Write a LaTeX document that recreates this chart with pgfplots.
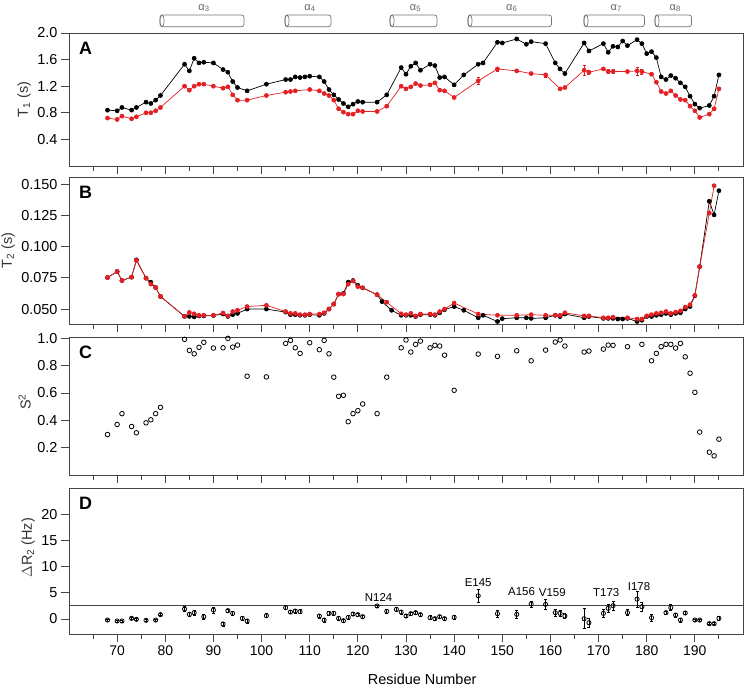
\documentclass[border=0pt]{standalone}
\usepackage{pgfplots}
\pgfplotsset{compat=1.18}
\usepackage{fontspec}
\setmainfont{Liberation Sans}
\definecolor{myred}{RGB}{228,32,36}
\definecolor{frame}{RGB}{70,70,70}
\tikzset{letter/.style={anchor=north west, inner sep=0pt, font=\fontsize{18}{18}\selectfont\bfseries}}
\pgfplotsset{
  panel/.style={
    scale only axis, width=674bp, xmin=60, xmax=200,
    axis line style={frame, line width=0.9bp},
    every tick/.style={frame, line width=0.9bp},
    xtick={70,80,...,190}, minor xtick={65,75,...,195},
    tick align=outside, major tick length=8bp, minor tick length=5bp,
    tick pos=left,
    xticklabel style={font=\fontsize{14}{16}\selectfont},
    yticklabel style={font=\fontsize{14.5}{16}\selectfont, /pgf/number format/.cd, fixed, fixed zerofill, precision=1},
    /pgf/number format/assume math mode=true,
    every axis y label/.style={at={(ticklabel cs:0.5)}, rotate=90, anchor=near ticklabel, inner sep=3bp, font=\fontsize{14.5}{16}\selectfont, text=black!80},
    clip=false,
  },
  blk/.style={black, line width=0.7bp, mark=*, mark size=2bp, mark options={fill=black}},
  rd/.style={myred, line width=0.7bp, mark=*, mark size=2bp, mark options={fill=myred}},
}
\begin{document}
\begin{tikzpicture}
\useasboundingbox (0,0) rectangle (744bp,689bp);

% ---------------- Panel A ----------------
\begin{axis}[panel, at={(69bp,523bp)}, anchor=south west, height=133bp,
  ymin=0, ymax=2.0, ytick={0.4,0.8,1.2,1.6,2.0}, xticklabels={},
  ylabel={T\textsubscript{1} (s)}]
\addplot[blk] coordinates {
(68,0.84)(70,0.83)(71,0.88)(73,0.84)(74,0.88)(76,0.96)(77,0.94)(78,0.99)(79,1.06)
(84,1.53)(85,1.43)(86,1.62)(87,1.55)(88,1.56)(90,1.55)(92,1.45)(93,1.41)(94,1.27)(95,1.18)(97,1.13)
(101,1.23)(105,1.30)(106,1.30)(107,1.34)(108,1.33)(109,1.34)(110,1.35)(112,1.34)(113,1.27)(114,1.15)
(115,1.07)(116,1.00)(117,0.94)(118,0.89)(119,0.93)(120,0.97)(121,0.96)(124,0.96)(126,1.07)
(129,1.48)(130,1.38)(131,1.50)(132,1.55)(133,1.44)(135,1.53)(136,1.51)(137,1.33)(138,1.34)(140,1.22)
(142,1.37)(145,1.53)(146,1.55)(149,1.86)(150,1.85)(153,1.91)(155,1.83)(156,1.87)(159,1.84)
(161,1.55)(162,1.46)(163,1.39)(167,1.85)(168,1.73)(171,1.84)(172,1.71)(173,1.80)(174,1.79)(175,1.88)
(176,1.81)(178,1.90)(179,1.84)(180,1.69)(181,1.72)(182,1.63)(183,1.34)(184,1.30)(185,1.36)(186,1.32)
(187,1.25)(188,1.19)(189,1.05)(190,0.93)(191,0.87)(193,0.91)(194,1.05)(195,1.37)};
\addplot[rd, error bars/.cd, y dir=both, y explicit, error bar style={line width=0.7bp}, error mark options={rotate=90, mark size=1.5bp, line width=0.7bp}] coordinates {
(68,0.72)(70,0.70)(71,0.75)(73,0.71)(74,0.74)(76,0.80)(77,0.80)(78,0.83)(79,0.88)
(84,1.20)(85,1.14)(86,1.20)(87,1.23)(88,1.23)(90,1.20)(92,1.17)(93,1.19)(94,1.07)(95,0.99)(97,0.99)
(101,1.06)(105,1.11)(106,1.12)(107,1.13)(110,1.15)(112,1.13)(113,1.09)(114,1.06)(115,0.99)
(116,0.86)(117,0.81)(118,0.78)(119,0.78)(120,0.83)(121,0.82)(124,0.82)(126,0.90)
(129,1.20)(130,1.16)(131,1.19)(132,1.24)(133,1.21)(135,1.22)(136,1.25)(137,1.14)(138,1.13)(140,1.03)
(145,1.28) +- (0,0.05) (149,1.46) +- (0,0.03) (153,1.43)(156,1.39)(159,1.37) +- (0,0.03)
(162,1.16)(163,1.18)(167,1.44) +- (0,0.08) (168,1.41) +- (0,0.03) (171,1.46)(172,1.42) +- (0,0.03) (173,1.42) +- (0,0.03)
(176,1.42)(178,1.43) +- (0,0.06) (179,1.42) +- (0,0.04) (181,1.38)(182,1.26)(183,1.12)(184,1.09)(185,1.13)
(186,1.06)(187,1.00)(188,0.99)(189,0.90)(190,0.83)(191,0.73)(193,0.78)(194,0.86)(195,1.16)};
\node[letter] at ([xshift=10bp,yshift=-9bp]rel axis cs:0,1) {A};
\end{axis}

% ---------------- Panel B ----------------
\begin{axis}[panel, at={(69bp,365bp)}, anchor=south west, height=147bp,
  ymin=0.038, ymax=0.156, ytick={0.050,0.075,0.100,0.125,0.150}, xticklabels={},
  yticklabel style={/pgf/number format/.cd, fixed, fixed zerofill, precision=3},
  ylabel={T\textsubscript{2} (s)}]
\addplot[blk] coordinates {
(68,0.0753)(70,0.0801)(71,0.0729)(73,0.0756)(74,0.0895)(76,0.0748)(77,0.0715)(78,0.0673)(79,0.0601)
(84,0.0441)(85,0.0441)(86,0.0437)(87,0.0445)(88,0.0445)(90,0.0448)(92,0.0460)(93,0.0441)(94,0.0455)
(95,0.0465)(97,0.0500)(101,0.0500)(105,0.0475)(106,0.0455)(107,0.0455)(108,0.0450)(109,0.0450)
(110,0.0455)(112,0.0450)(113,0.0465)(114,0.0500)(115,0.0540)(116,0.0620)(117,0.0625)(118,0.0716)
(119,0.0729)(120,0.0690)(121,0.0670)(124,0.0615)(125,0.0560)(127,0.0490)(129,0.0450)(130,0.0450)
(131,0.0450)(132,0.0440)(133,0.0455)(135,0.0455)(136,0.0450)(137,0.0470)(138,0.0495)(140,0.0520)
(142,0.0490)(145,0.0430)(146,0.0450)(149,0.0400)(150,0.0423)(153,0.0430)(155,0.0430)(156,0.0425)
(159,0.0430)(161,0.0450)(162,0.0440)(163,0.0460)(167,0.0430)(168,0.0440)(171,0.0425)(172,0.0425)
(173,0.0425)(174,0.0420)(175,0.0420)(176,0.0425)(178,0.0400)(179,0.0410)(180,0.0440)(181,0.0440)
(182,0.0450)(183,0.0455)(184,0.0465)(185,0.0455)(186,0.0465)(187,0.0470)(188,0.0500)(189,0.0520)
(190,0.0607)(191,0.0840)(193,0.1365)(194,0.1256)(195,0.1450)};
\addplot[rd] coordinates {
(68,0.0753)(70,0.0801)(71,0.0729)(73,0.0756)(74,0.0890)(76,0.0748)(77,0.0700)(78,0.0673)(79,0.0601)
(84,0.0441)(85,0.0473)(86,0.0462)(87,0.0450)(88,0.0450)(90,0.0450)(92,0.0468)(93,0.0445)(94,0.0480)
(95,0.0490)(97,0.0520)(101,0.0530)(105,0.0480)(106,0.0465)(107,0.0465)(108,0.0455)(109,0.0455)
(110,0.0460)(112,0.0460)(113,0.0470)(114,0.0500)(115,0.0540)(116,0.0620)(117,0.0620)(118,0.0700)
(119,0.0725)(120,0.0680)(121,0.0670)(124,0.0615)(126,0.0555)(129,0.0462)(130,0.0455)(131,0.0465)
(132,0.0445)(133,0.0460)(135,0.0460)(136,0.0455)(137,0.0480)(138,0.0500)(140,0.0548)(145,0.0460)
(149,0.0450)(153,0.0450)(156,0.0455)(159,0.0450)(161,0.0450)(162,0.0450)(163,0.0470)(167,0.0445)
(168,0.0445)(171,0.0430)(172,0.0430)(173,0.0435)(176,0.0430)(178,0.0420)(179,0.0420)(180,0.0445)
(181,0.0455)(182,0.0465)(183,0.0470)(184,0.0480)(185,0.0465)(186,0.0475)(187,0.0485)(188,0.0515)
(189,0.0535)(190,0.0610)(191,0.0840)(193,0.1270)(194,0.1490)};
\node[letter] at ([xshift=10bp,yshift=-9bp]rel axis cs:0,1) {B};
\end{axis}

% ---------------- Panel C ----------------
\begin{axis}[panel, at={(69bp,214bp)}, anchor=south west, height=138bp,
  ymin=0, ymax=1.01, ytick={0.2,0.4,0.6,0.8,1.0}, xticklabels={},
  ylabel={S\textsuperscript{2}},
  every axis y label/.append style={at={(ticklabel cs:0.53)}}]
\addplot[only marks, black, mark=o, mark size=2.3bp, mark options={line width=0.8bp}] coordinates {
(68,0.296)(70,0.37)(71,0.449)(73,0.355)(74,0.309)(76,0.382)(77,0.404)(78,0.449)(79,0.495)
(84,0.993)(85,0.912)(86,0.887)(87,0.934)(88,0.971)(90,0.929)(92,0.931)(93,1.0)(94,0.936)(95,0.951)
(97,0.723)(101,0.718)(105,0.963)(106,0.985)(107,0.931)(108,0.89)(110,0.968)(112,0.917)(113,0.985)
(114,0.887)(115,0.716)(116,0.576)(117,0.583)(118,0.39)(119,0.449)(120,0.471)(121,0.52)(124,0.449)
(126,0.716)(129,0.931)(130,0.988)(131,0.90)(132,0.956)(133,0.98)(135,0.931)(136,0.949)(137,0.944)
(138,0.877)(140,0.62)(145,0.885)(149,0.868)(153,0.909)(156,0.836)(159,0.914)(161,0.973)(162,0.988)
(163,0.944)(167,0.90)(168,0.907)(171,0.921)(172,0.951)(173,0.949)(176,0.939)(179,0.956)(181,0.836)
(182,0.89)(183,0.939)(184,0.956)(185,0.956)(186,0.929)(187,0.963)(188,0.865)(189,0.745)(190,0.605)
(191,0.314)(193,0.167)(194,0.14)(195,0.262)};
\node[letter] at ([xshift=10bp,yshift=-9bp]rel axis cs:0,1) {C};
\end{axis}

% ---------------- Panel D ----------------
\begin{axis}[panel, at={(69bp,55bp)}, anchor=south west, height=146bp,
  ymin=-2.86, ymax=25, ytick={0,5,10,15,20},
  yticklabel style={/pgf/number format/.cd, fixed, precision=0},
  ylabel={$\Delta$R\textsubscript{2} (Hz)},
  every axis y label/.append style={at={(ticklabel cs:0.59)}},
  xlabel={Residue Number},
  every axis x label/.style={at={(axis description cs:0.524,-0.308)}, anchor=center, font=\fontsize{14.5}{17}\selectfont}]
\addplot[frame, line width=0.9bp] coordinates {(60,2.5)(200,2.5)};
\addplot[only marks, black, mark=o, mark size=2.1bp, mark options={line width=0.8bp},
  error bars/.cd, y dir=both, y explicit, error bar style={line width=0.7bp, black},
  error mark options={rotate=90, mark size=1.5bp, line width=0.7bp}] coordinates {
(68,-0.19) +- (0,0.2) (70,-0.38) +- (0,0.2) (71,-0.38) +- (0,0.2) (73,0.13) +- (0,0.2) (74,-0.06) +- (0,0.2)
(76,-0.25) +- (0,0.2) (78,-0.19) +- (0,0.2) (79,0.83) +- (0,0.2)
(84,1.9) +- (0,0.5) (85,0.89) +- (0,0.3) (86,1.2) +- (0,0.5) (88,0.44) +- (0,0.5) (90,1.71) +- (0,0.6)
(92,-0.95) +- (0,0.4) (93,1.59) +- (0,0.3) (94,1.08) +- (0,0.3) (96,0.13) +- (0,0.4) (97,-0.38) +- (0,0.4)
(101,0.63) +- (0,0.4) (105,2.16) +- (0,0.4) (106,1.33) +- (0,0.3) (107,1.52) +- (0,0.4) (108,1.4) +- (0,0.4)
(112,0.57) +- (0,0.4) (113,-0.19) +- (0,0.4) (114,1.08) +- (0,0.3) (115,1.08) +- (0,0.3) (116,0.13) +- (0,0.3)
(117,-0.32) +- (0,0.3) (118,0.32) +- (0,0.3) (119,0.95) +- (0,0.3) (120,0.83) +- (0,0.3) (121,0.44) +- (0,0.3)
(124,2.48) +- (0,0.2) (126,1.46) +- (0,0.3) (128,1.84) +- (0,0.4) (129,1.33) +- (0,0.4) (130,0.57) +- (0,0.3)
(131,1.02) +- (0,0.3) (132,1.21) +- (0,0.3) (133,0.83) +- (0,0.3) (135,0.25) +- (0,0.4) (136,0.06) +- (0,0.3)
(137,0.44) +- (0,0.3) (138,0.06) +- (0,0.3) (140,0.32) +- (0,0.4)
(145,4.44) +- (0,1.2) (149,1.02) +- (0,0.7) (153,0.89) +- (0,0.7) (156,2.86) +- (0,0.6) (159,2.79) +- (0,0.9)
(161,1.21) +- (0,0.7) (162,1.08) +- (0,0.6) (163,0.57) +- (0,0.5) (167,0.06) +- (0,1.9) (168,-0.7) +- (0,0.8)
(171,1.08) +- (0,0.8) (172,2.03) +- (0,0.8) (173,2.54) +- (0,0.8) (176,1.21) +- (0,0.6) (178,3.8) +- (0,1.5)
(179,2.35) +- (0,0.8) (181,0.25) +- (0,0.7) (184,1.21) +- (0,0.3) (185,2.16) +- (0,0.6) (186,0.76) +- (0,0.4)
(187,-0.19) +- (0,0.4) (188,1.15) +- (0,0.3) (190,-0.19) +- (0,0.2) (191,-0.19) +- (0,0.2)
(193,-0.89) +- (0,0.2) (194,-0.89) +- (0,0.2) (195,0.13) +- (0,0.3)};
\begin{scope}[every node/.style={font=\fontsize{11.5}{13}\selectfont, inner sep=0pt}]
\node at (axis cs:124.3,4.2) {N124};
\node at (axis cs:145,6.9) {E145};
\node at (axis cs:154,5.2) {A156};
\node at (axis cs:160.4,5.0) {V159};
\node at (axis cs:171.6,5.1) {T173};
\node at (axis cs:178.4,6.15) {I178};
\end{scope}
\node[letter] at ([xshift=10bp,yshift=-9bp]rel axis cs:0,1) {D};
\end{axis}

% ---------------- helix cylinders ----------------
\foreach \xa/\xb/\lab in {160/244/3, 285/331/4, 390/437/5, 468/551.5/6, 584/644.5/7, 655/691.5/8} {
  \draw[black!55, line width=0.7bp, rounded corners=2.5bp] (\xa bp,662.3bp) rectangle (\xb bp,674bp);
  \draw[black!55, line width=0.7bp] ([xshift=2bp]\xa bp,668.15bp) ellipse (2bp and 5.85bp);
  \pgfmathsetmacro{\xm}{(\xa+\xb)/2+2}
  \node[text=black!60, font=\fontsize{11}{13}\selectfont, inner sep=0pt] at (\xm bp,681bp) {α\textsubscript{\lab}};
}
\end{tikzpicture}
\end{document}
